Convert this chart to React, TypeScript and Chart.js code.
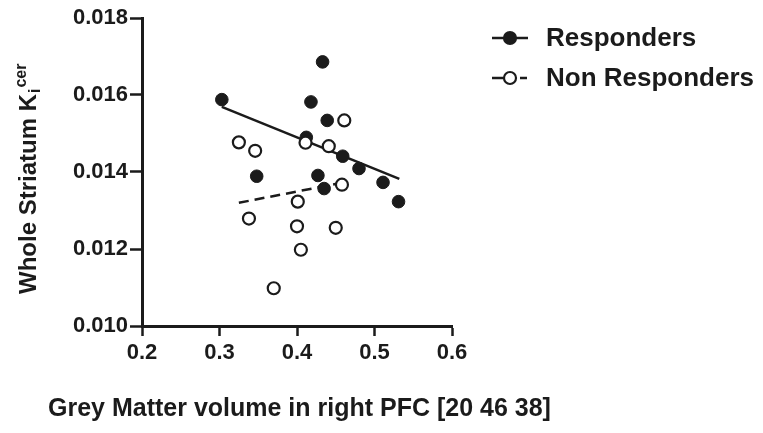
import React, { useEffect, useRef } from "react";
import { Chart, registerables } from "chart.js";

Chart.register(...registerables);

// ---- Data ----
const responderX = [0.303, 0.433, 0.418, 0.439, 0.412, 0.459, 0.48, 0.348, 0.427, 0.435, 0.511, 0.531];
const responderY = [0.01588, 0.01686, 0.01582, 0.01534, 0.0149, 0.01441, 0.01409, 0.01389, 0.01391, 0.01357, 0.01373, 0.01323];
const nonResponderX = [0.325, 0.346, 0.411, 0.441, 0.461, 0.458, 0.401, 0.338, 0.4, 0.45, 0.405, 0.37];
const nonResponderY = [0.01477, 0.01455, 0.01476, 0.01467, 0.01534, 0.01367, 0.01323, 0.01279, 0.01259, 0.01255, 0.01198, 0.01098];
const responderFitX = [0.303, 0.532];
const responderFitY = [0.01569, 0.01382];
const nonResponderFitX = [0.325, 0.458];
const nonResponderFitY = [0.0132, 0.01372];

const seriesLabels = ["Responders", "Non Responders"];
const xTitle = "Grey Matter volume in right PFC [20 46 38]";
const yTitleMain = "Whole Striatum K";
const yTitleSub = "i";
const yTitleSup = "cer";
const xTicks = [0.2, 0.3, 0.4, 0.5, 0.6];
const yTicks = [0.01, 0.012, 0.014, 0.016, 0.018];

const FONT = '"Liberation Sans", Arial, sans-serif';
const INK = "#1b1b1b";

const toPoints = (xs: number[], ys: number[]) => xs.map((x, i) => ({ x, y: ys[i] }));

const annotPlugin = {
  id: "annot",
  afterDraw(chart: any) {
    const ctx = chart.ctx as CanvasRenderingContext2D;
    ctx.save();
    ctx.fillStyle = INK;
    // Y title (rotated) with sub/superscript
    ctx.save();
    ctx.translate(36, 294);
    ctx.rotate(-Math.PI / 2);
    ctx.textAlign = "left";
    ctx.textBaseline = "alphabetic";
    ctx.font = `bold 24px ${FONT}`;
    ctx.fillText(yTitleMain, 0, 0);
    const w = ctx.measureText(yTitleMain).width;
    ctx.font = `bold 16px ${FONT}`;
    ctx.fillText(yTitleSub, w + 1, 4);
    const wi = ctx.measureText(yTitleSub).width;
    ctx.fillText(yTitleSup, w + wi + 2, -10);
    ctx.restore();

    // X title
    ctx.font = `bold 25px ${FONT}`;
    ctx.textAlign = "left";
    ctx.textBaseline = "middle";
    ctx.fillText(xTitle, 48, 409);

    // Legend
    const rows = [38, 78];
    ctx.font = `bold 26px ${FONT}`;
    ctx.strokeStyle = INK;
    seriesLabels.forEach((label, i) => {
      const y = rows[i];
      ctx.lineWidth = 2.5;
      ctx.beginPath();
      if (i === 0) {
        ctx.moveTo(492, y);
        ctx.lineTo(528, y);
      } else {
        ctx.moveTo(492, y);
        ctx.lineTo(504, y);
        ctx.moveTo(520, y);
        ctx.lineTo(527, y);
      }
      ctx.stroke();
      ctx.beginPath();
      ctx.arc(510, y, 6, 0, Math.PI * 2);
      ctx.fillStyle = i === 0 ? INK : "#ffffff";
      ctx.fill();
      ctx.lineWidth = 2.2;
      ctx.stroke();
      ctx.fillStyle = INK;
      ctx.fillText(label, 546, y + 1);
    });
    ctx.restore();
  },
};

export default function App() {
  const ref = useRef<HTMLCanvasElement | null>(null);
  useEffect(() => {
    if (!ref.current) return;
    const chart = new Chart(ref.current, {
      type: "scatter",
      data: {
        datasets: [
          {
            label: seriesLabels[1],
            data: toPoints(nonResponderX, nonResponderY),
            pointRadius: 6,
            pointBorderWidth: 2.2,
            pointBackgroundColor: "#ffffff",
            pointBorderColor: INK,
            showLine: false,
            order: 0,
          },
          {
            label: seriesLabels[0],
            data: toPoints(responderX, responderY),
            pointRadius: 6.3,
            pointBorderWidth: 1,
            pointBackgroundColor: INK,
            pointBorderColor: INK,
            showLine: false,
            order: 1,
          },
          {
            type: "line",
            label: "fitR",
            data: toPoints(responderFitX, responderFitY),
            borderColor: INK,
            borderWidth: 2.5,
            pointRadius: 0,
            fill: false,
            order: 2,
          },
          {
            type: "line",
            label: "fitN",
            data: toPoints(nonResponderFitX, nonResponderFitY),
            borderColor: INK,
            borderWidth: 2.5,
            borderDash: [10, 6],
            pointRadius: 0,
            fill: false,
            order: 3,
          },
        ] as any,
      },
      options: {
        animation: false,
        responsive: false,
        maintainAspectRatio: false,
        layout: { padding: { left: 0, top: 18, right: 311, bottom: 0 } },
        plugins: { legend: { display: false }, tooltip: { enabled: false } },
        scales: {
          x: {
            type: "linear",
            min: 0.2,
            max: 0.6,
            afterFit: (s: any) => {
              s.height = 107;
            },
            afterBuildTicks: (s: any) => {
              s.ticks = xTicks.map((v) => ({ value: v }));
            },
            ticks: {
              callback: (v: any) => Number(v).toFixed(1),
              color: INK,
              font: { family: FONT, size: 22, weight: "bold" },
              padding: 4,
              maxRotation: 0,
            },
            grid: {
              drawOnChartArea: false,
              drawTicks: true,
              tickLength: 10,
              tickColor: INK,
              tickWidth: 2.5,
            },
            border: { color: INK, width: 3 },
          },
          y: {
            type: "linear",
            min: 0.01,
            max: 0.018,
            afterFit: (s: any) => {
              s.width = 142;
            },
            afterBuildTicks: (s: any) => {
              s.ticks = yTicks.map((v) => ({ value: v }));
            },
            ticks: {
              callback: (v: any) => Number(v).toFixed(3),
              color: INK,
              font: { family: FONT, size: 22, weight: "bold" },
              padding: 2,
            },
            grid: {
              drawOnChartArea: false,
              drawTicks: true,
              tickLength: 12,
              tickColor: INK,
              tickWidth: 2.5,
            },
            border: { color: INK, width: 3 },
          },
        },
      } as any,
      plugins: [annotPlugin],
    });
    return () => chart.destroy();
  }, []);
  return (
    <div style={{ position: "fixed", left: 0, top: 0, width: 763, height: 433, background: "#fff" }}>
      <canvas ref={ref} width={763} height={433} style={{ display: "block", width: 763, height: 433 }} />
    </div>
  );
}
